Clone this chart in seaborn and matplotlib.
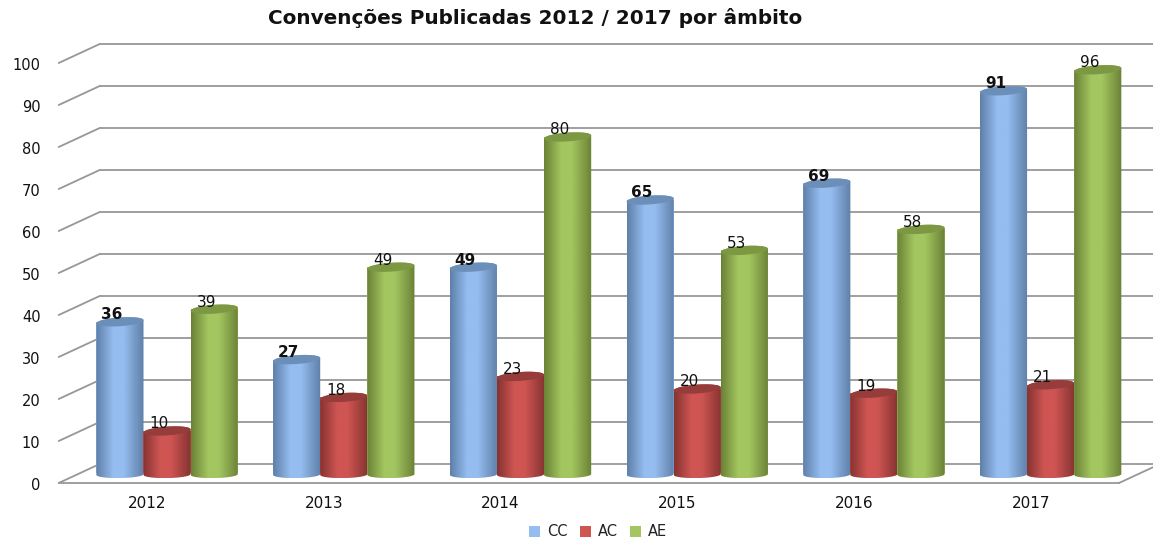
import numpy as np
import pandas as pd
import matplotlib
matplotlib.use("Agg")
import matplotlib.pyplot as plt
from matplotlib.patches import PathPatch, Polygon
from matplotlib.path import Path
from matplotlib.colors import LinearSegmentedColormap
from matplotlib.transforms import ScaledTranslation
import seaborn as sns

# Published conventions per year and scope
years = ["2012", "2013", "2014", "2015", "2016", "2017"]
cc = [36, 27, 49, 65, 69, 91]
ac = [10, 18, 23, 20, 19, 21]
ae = [39, 49, 80, 53, 58, 96]
scopes = ["CC", "AC", "AE"]
y_ticks = list(range(0, 101, 10))
title = "Convenções Publicadas 2012 / 2017 por âmbito"

palette = {"CC": "#95BDF0", "AC": "#CF5553", "AE": "#A4C660"}
edge_shade = {"CC": "#5E7FA8", "AC": "#853331", "AE": "#6A8136"}
cap_shade = {"CC": "#6C8FBA", "AC": "#963C3A", "AE": "#7C9843"}

W, H, DPI = 1153, 542, 100
sns.set_theme(style="white")
plt.rcParams["font.family"] = ["DejaVu Sans"]

fig = plt.figure(figsize=(W / DPI, H / DPI), dpi=DPI)
# The axes is the plane the cylinders stand on; walls and floor are shifted from it
left, right, base, top = 78.7, 1139.0, 473.0, 53.0
ax = fig.add_axes([left / W, 1 - base / H, (right - left) / W, (base - top) / H])

df = pd.DataFrame({
    "ano": years * 3,
    "ambito": [s for s in scopes for _ in years],
    "valor": cc + ac + ae,
})
sns.barplot(data=df, x="ano", y="valor", hue="ambito", hue_order=scopes,
            palette=palette, width=0.8, gap=0, saturation=1, errorbar=None,
            linewidth=0, ax=ax, zorder=3)
ax.set_xlim(-0.5, 5.5)
ax.set_ylim(0, 100)
ax.set_xlabel("")
ax.set_ylabel("")
sns.despine(ax=ax, left=True, bottom=True)


def shifted(dx, dy):
    return ax.transData + ScaledTranslation(dx / DPI, -dy / DPI, fig.dpi_scale_trans)


front, back = (-20, 10), (21, -9)
grid_kw = dict(color="#979797", lw=1.3, zorder=1, clip_on=False, solid_capstyle="round")

# Back wall gridlines and the side wall slants
for v in y_ticks:
    ax.plot([-0.5, 5.5], [v, v], transform=shifted(*back), **grid_kw)
    x0, y0 = ax.transData.transform((-0.5, v))
    ax.plot([x0 + front[0], x0 + back[0]], [y0 - front[1], y0 - back[1]],
            transform=None, **grid_kw)

# Front edge of the floor and its right-hand slant
ax.plot([-0.5, 5.5], [0, 0], transform=shifted(*front), **grid_kw)
xr, yr = ax.transData.transform((5.5, 0))
ax.plot([xr + front[0], xr + back[0]], [yr - front[1], yr - back[1]],
        transform=None, **grid_kw)

# Axis labels sit on the front plane
ax.set_yticks(y_ticks)
ax.set_yticklabels([str(v) for v in y_ticks])
ax.tick_params(axis="y", length=0, pad=27.5, labelsize=10.5, labelcolor="#111111")
ax.tick_params(axis="x", length=0, pad=16.5, labelsize=11, labelcolor="#111111")
for lab in ax.get_xticklabels():
    lab.set_transform(lab.get_transform() + ScaledTranslation(-20 / DPI, 0, fig.dpi_scale_trans))
for lab in ax.get_yticklabels():
    lab.set_transform(lab.get_transform() + ScaledTranslation(0, -11 / DPI, fig.dpi_scale_trans))

px_y = (base - top) / 100      # pixels per value unit
cap_h = 4.4 / px_y             # top ellipse half height in value units
cap_tilt = 1.6 / px_y          # top ellipse rises slightly towards the right
foot_h = 3.6 / px_y            # the foot of each cylinder is flatter
foot_tilt = 0.4 / px_y
foot_drop = 1.5 / px_y

t_lower = np.linspace(np.pi, 2 * np.pi, 40)
t_upper = np.linspace(0, np.pi, 40)
t_full = np.linspace(0, 2 * np.pi, 80)


def arc(cx, cy, a, t, half=cap_h, lean=cap_tilt):
    return np.column_stack([cx + a * np.cos(t), cy + half * np.sin(t) + lean * np.cos(t)])


order = 3.0
for container, scope in zip(ax.containers, scopes):
    ramp = LinearSegmentedColormap.from_list(
        scope,
        [(0.0, edge_shade[scope]), (0.36, palette[scope]), (0.58, palette[scope]),
         (1.0, edge_shade[scope])],
    )
    for bar in container:
        a = bar.get_width() / 2
        cx = bar.get_x() + a
        h = bar.get_height()
        bar.set_zorder(order)
        body = np.vstack([arc(cx, -foot_drop, a, t_lower, foot_h, foot_tilt),
                          arc(cx, h, a, t_upper)])
        clip = PathPatch(Path(np.vstack([body, body[:1]])), transform=ax.transData,
                         fc="none", ec="none", clip_on=False)
        ax.add_patch(clip)
        img = ax.imshow(np.linspace(0, 1, 128)[None, :], cmap=ramp, aspect="auto",
                        extent=(cx - a, cx + a, -foot_drop - foot_h - foot_tilt,
                                h + cap_h + cap_tilt),
                        zorder=order + 0.1, interpolation="bilinear")
        img.set_clip_path(clip)
        img.set_clip_box(fig.bbox)
        ax.add_patch(Polygon(arc(cx, h, a, t_full), closed=True, fc=cap_shade[scope],
                             ec="none", zorder=order + 0.2, clip_on=False))
        ax.annotate(f"{h:.0f}", (cx, h), xytext=(-5.8, 5.1), textcoords="offset points",
                    ha="center", va="center", fontsize=11, color="#111111",
                    fontweight="bold" if scope == "CC" else "normal", zorder=20,
                    annotation_clip=False)
        order += 0.5

ax.set_xlim(-0.5, 5.5)
ax.set_ylim(0, 100)

fig.text(535 / W, 1 - 18 / H, title, ha="center", va="center", fontsize=14.4,
         fontweight="bold", color="#111111")

ax.legend(ncol=3, frameon=False, loc="center", bbox_to_anchor=(598 / W, 1 - 532 / H),
          bbox_transform=fig.transFigure, fontsize=10.5, handlelength=0.78, handleheight=0.78,
          handletextpad=0.45, columnspacing=0.85, labelcolor="#222222")

fig.savefig("out.png", dpi=DPI)
